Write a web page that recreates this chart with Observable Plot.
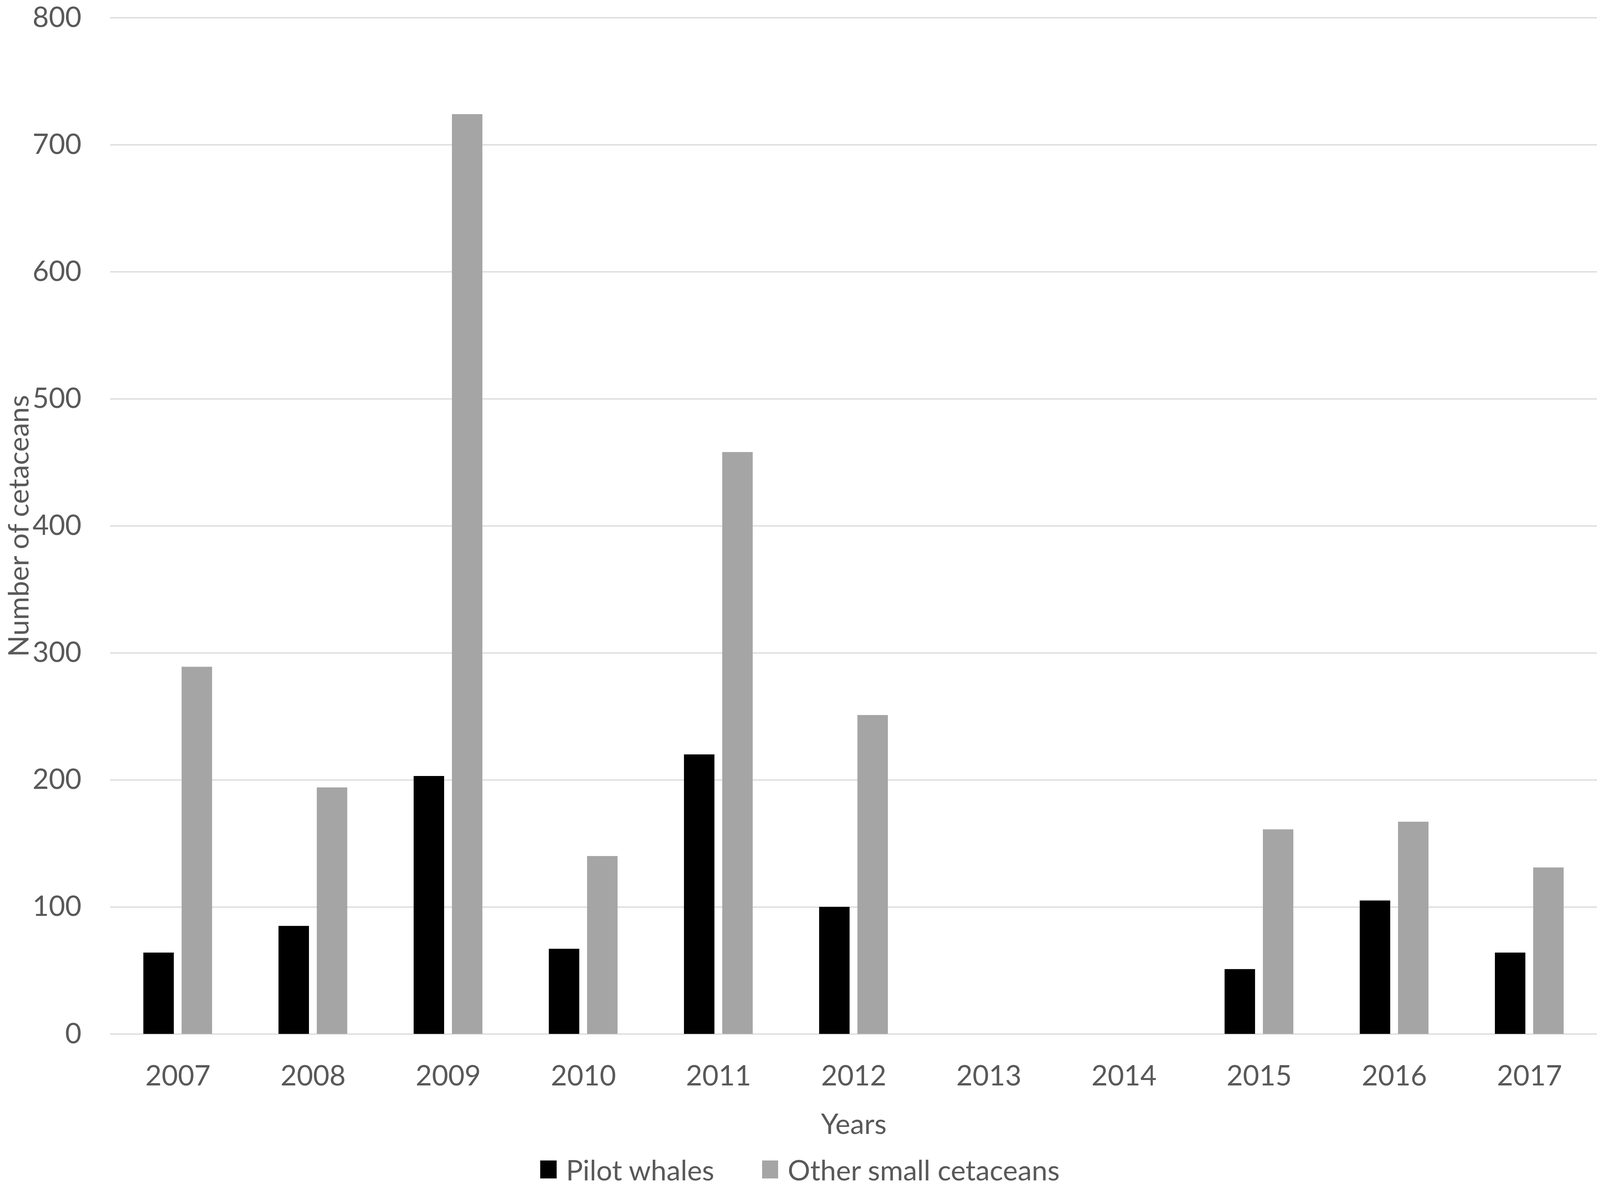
<!DOCTYPE html>
<html>
<head>
<meta charset="utf-8">
<script src="https://cdn.jsdelivr.net/npm/d3@7"></script>
<script src="https://cdn.jsdelivr.net/npm/@observablehq/plot@0.6"></script>
<style>
  html, body { margin: 0; padding: 0; background: #ffffff; overflow: hidden; }
  .legend { display: flex; justify-content: center; align-items: center;
            font-family: Lato, "Open Sans", sans-serif; color: #595959; }
  .legend .sw { display: inline-block; }
  .legend .item { display: flex; align-items: center; }
</style>
</head>
<body>
<div id="chart"></div>
<script>
const years = ["2007","2008","2009","2010","2011","2012","2013","2014","2015","2016","2017"];
const series = ["Pilot whales", "Other small cetaceans"];
const pilotWhales = [64, 85, 203, 67, 220, 100, null, null, 51, 105, 64];
const otherSmallCetaceans = [289, 194, 724, 140, 458, 251, null, null, 161, 167, 131];
const seriesColors = ["#000000", "#a5a5a5"];
const yTicks = [0, 100, 200, 300, 400, 500, 600, 700, 800];

const rows = years.flatMap((yr, i) => [
  {year: yr, series: series[0], value: pilotWhales[i]},
  {year: yr, series: series[1], value: otherSmallCetaceans[i]}
]);

// fit the 4550 x 3043 reference layout to the actual viewport
const kx = (window.innerWidth || 4550) / 4550;
const ky = (window.innerHeight || 3043) / 3043;
const kf = Math.sqrt(kx * ky);
const fs = 76 * kf;

const chart = Plot.plot({
  width: 4550 * kx,
  height: 2925 * ky,
  marginTop: 45 * ky,
  marginLeft: 310 * kx,
  marginRight: 6 * kx,
  marginBottom: 279 * ky,
  style: {fontFamily: "Lato, 'Open Sans', sans-serif", fontSize: fs + "px", color: "#595959", background: "#ffffff", overflow: "visible"},
  fx: {domain: years, paddingInner: 0, paddingOuter: 0},
  x: {domain: series, paddingInner: 0.209, paddingOuter: 0.854, axis: null},
  y: {domain: [0, 800], axis: null},
  color: {domain: series, range: seriesColors},
  marks: [
    Plot.gridY({ticks: yTicks, stroke: "#d9d9d9", strokeOpacity: 1, strokeWidth: 3 * ky}),
    Plot.barY(rows, {fx: "year", x: "series", y: "value", fill: "series"}),
    Plot.axisY({ticks: yTicks, tickSize: 0, tickPadding: 82 * kx, label: "Number of cetaceans",
                labelAnchor: "center", labelOffset: 290 * kx, labelArrow: "none"}),
    Plot.axisFx({anchor: "bottom", tickSize: 0, tickPadding: 80 * ky, label: "Years",
                 labelAnchor: "center", labelOffset: 255 * ky, labelArrow: "none"})
  ]
});
chart.style.display = "block";
document.getElementById("chart").appendChild(chart);

const legend = document.createElement("div");
legend.className = "legend";
legend.style.fontSize = fs + "px";
legend.style.paddingTop = (20 * ky) + "px";
legend.style.height = (96 * ky) + "px";
series.forEach((s, i) => {
  const item = document.createElement("div");
  item.className = "item";
  item.style.margin = "0 " + (68 * kx) + "px";
  const sw = document.createElement("span");
  sw.className = "sw";
  sw.style.width = (46 * kx) + "px";
  sw.style.height = (46 * ky) + "px";
  sw.style.marginRight = (27 * kx) + "px";
  sw.style.background = seriesColors[i];
  const t = document.createElement("span");
  t.textContent = s;
  item.appendChild(sw);
  item.appendChild(t);
  legend.appendChild(item);
});
document.body.appendChild(legend);
</script>
</body>
</html>
